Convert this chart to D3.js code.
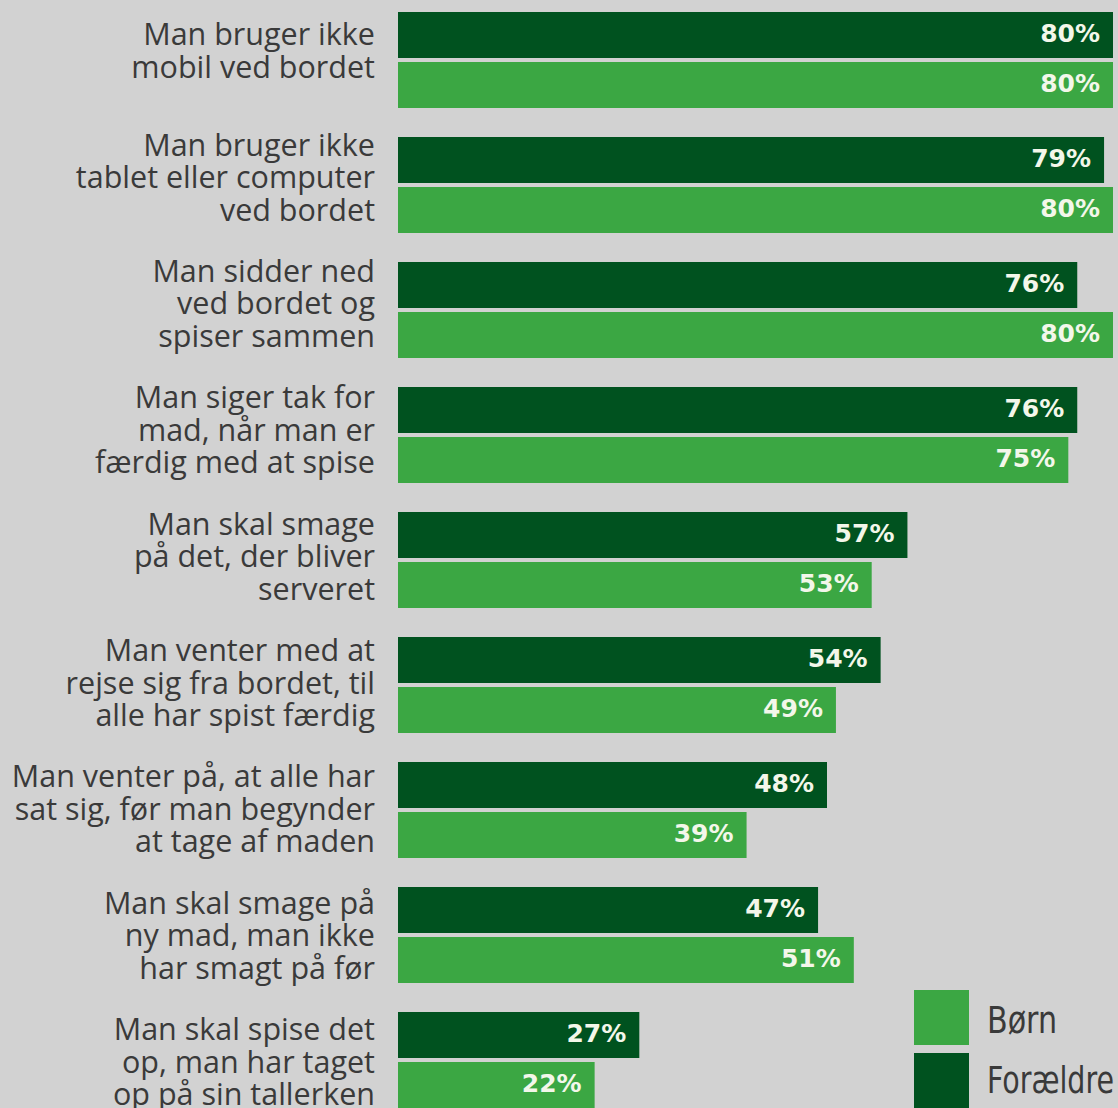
<!DOCTYPE html>
<html>
<head>
<meta charset="utf-8">
<script src="https://cdn.jsdelivr.net/npm/d3@7"></script>
<style>
  html, body { margin: 0; padding: 0; background: #d2d2d2; }
  svg { display: block; }
</style>
</head>
<body>
<svg width="1118" height="1108"></svg>
<script>
// categories (one entry per line of the label)
var categories = [
    ["Man bruger ikke", "mobil ved bordet"],
    ["Man bruger ikke", "tablet eller computer", "ved bordet"],
    ["Man sidder ned", "ved bordet og", "spiser sammen"],
    ["Man siger tak for", "mad, når man er", "færdig med at spise"],
    ["Man skal smage", "på det, der bliver", "serveret"],
    ["Man venter med at", "rejse sig fra bordet, til", "alle har spist færdig"],
    ["Man venter på, at alle har", "sat sig, før man begynder", "at tage af maden"],
    ["Man skal smage på", "ny mad, man ikke", "har smagt på før"],
    ["Man skal spise det", "op, man har taget", "op på sin tallerken"]
];
var foraeldre = [80, 79, 76, 76, 57, 54, 48, 47, 27];
var boern = [80, 80, 80, 75, 53, 49, 39, 51, 22];
var seriesNames = ["Børn", "Forældre"];

var colDark = "#00521f",
    colLight = "#3ba743";

var svg = d3.select("svg");

var x = d3.scaleLinear()
    .domain([0, 80])
    .range([398, 1113]);

var y = d3.scaleBand()
    .domain(d3.range(categories.length))
    .range([12, 12 + 125 * categories.length]);

// label blocks sit on a slightly looser pitch than the bars
var yLab = d3.scalePoint()
    .domain(d3.range(categories.length))
    .range([51, 1062]);

var barH = 46, barGap = 4;

var groups = svg.selectAll(".grp")
    .data(categories)
    .enter().append("g")
    .attr("class", "grp")
    .attr("transform", function(d, i) { return "translate(0," + y(i) + ")"; });

// dark (Forældre) bars
groups.append("rect")
    .attr("x", x(0))
    .attr("y", 0)
    .attr("width", function(d, i) { return x(foraeldre[i]) - x(0); })
    .attr("height", barH)
    .attr("fill", colDark);

// light (Børn) bars
groups.append("rect")
    .attr("x", x(0))
    .attr("y", barH + barGap)
    .attr("width", function(d, i) { return x(boern[i]) - x(0); })
    .attr("height", barH)
    .attr("fill", colLight);

// value labels
groups.append("text")
    .attr("class", "val")
    .attr("x", function(d, i) { return x(foraeldre[i]) - 13; })
    .attr("y", barH / 2 - 2)
    .attr("dy", "0.36em")
    .text(function(d, i) { return foraeldre[i] + "%"; });

groups.append("text")
    .attr("class", "val")
    .attr("x", function(d, i) { return x(boern[i]) - 13; })
    .attr("y", barH + barGap + barH / 2 - 2)
    .attr("dy", "0.36em")
    .text(function(d, i) { return boern[i] + "%"; });

svg.selectAll(".val")
    .style("text-anchor", "end")
    .style("fill", "#f3f7ea")
    .style("font-family", "DejaVu Sans")
    .style("font-weight", "bold")
    .style("font-size", "25px");

// category labels
var lineH = 32.5;
svg.selectAll(".cat")
    .data(categories)
    .enter().append("text")
    .attr("class", "cat")
    .style("text-anchor", "end")
    .style("fill", "#3a3a3a")
    .style("font-family", "Open Sans")
    .style("font-size", "30.5px")
    .each(function(d, i) {
        var t = d3.select(this);
        var top = yLab(i) - (d.length - 1) * lineH / 2;
        d.forEach(function(line, k) {
            t.append("tspan")
                .attr("x", 375)
                .attr("y", top + k * lineH)
                .attr("dy", "0.35em")
                .text(line);
        });
    });

// legend
var legend = svg.append("g")
    .attr("transform", "translate(914,990)");

legend.selectAll("rect")
    .data(seriesNames)
    .enter().append("rect")
    .attr("x", 0)
    .attr("y", function(d, i) { return i * 63; })
    .attr("width", 55)
    .attr("height", 55)
    .attr("fill", function(d, i) { return i === 0 ? colLight : colDark; });

var legendW = [70, 127];
legend.selectAll("text")
    .data(seriesNames)
    .enter().append("text")
    .attr("x", 73)
    .attr("y", function(d, i) { return i * 60 + 43; })
    .attr("textLength", function(d, i) { return legendW[i]; })
    .attr("lengthAdjust", "spacingAndGlyphs")
    .style("fill", "#3a3a3a")
    .style("font-family", "DejaVu Sans Condensed, DejaVu Sans")
    .style("font-size", "38px")
    .text(function(d) { return d; });
</script>
</body>
</html>
